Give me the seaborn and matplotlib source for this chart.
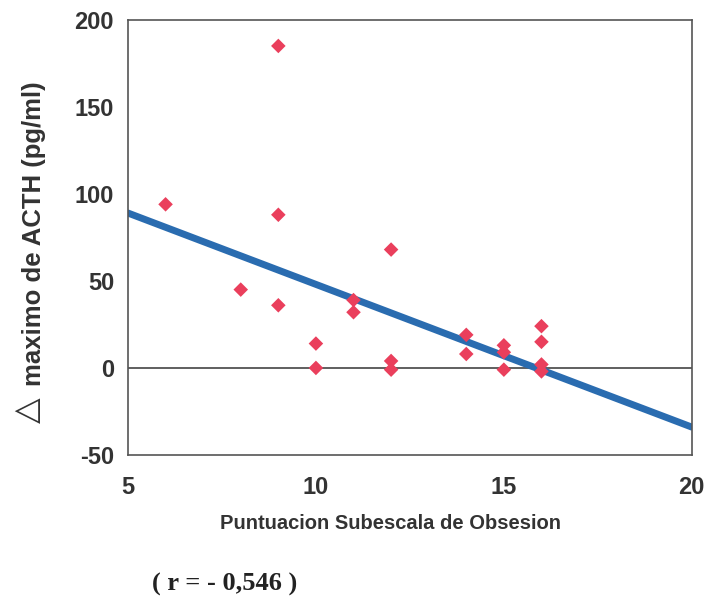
import matplotlib
matplotlib.use("Agg")
import matplotlib.pyplot as plt
import seaborn as sns
import pandas as pd

# data
puntuacion = [6, 8, 9, 9, 9, 10, 10, 11, 11, 12, 12, 12, 14, 14, 15, 15, 15, 16, 16, 16, 16]
acth_max = [94, 45, 185, 88, 36, 14, 0, 39, 32, 68, 4, -1, 19, 8, 13, 9, -1, 24, 15, 2, -2]

# regression line ends
fit_x = [5, 20]
fit_y = [89, -34]

x_ticks = [5, 10, 15, 20]
y_ticks = [-50, 0, 50, 100, 150, 200]


def main():
    sns.set_style("white")
    plt.rcParams["font.family"] = ["Liberation Sans", "DejaVu Sans"]
    plt.rcParams["axes.unicode_minus"] = False

    df = pd.DataFrame({"x": puntuacion, "y": acth_max})
    line_df = pd.DataFrame({"x": fit_x, "y": fit_y})

    fig = plt.figure(figsize=(7.11, 6.01), dpi=100)
    ax = fig.add_axes([0.18, 0.243, 0.793, 0.724])

    # zero line
    ax.axhline(0, color="#444444", lw=1.2, zorder=1)

    sns.lineplot(data=line_df, x="x", y="y", ax=ax, color="#2a6cb0", lw=5, zorder=2)
    sns.scatterplot(data=df, x="x", y="y", ax=ax, marker="D", s=55,
                    color="#ea3f5c", edgecolor="none", zorder=3)

    ax.set_xlim(5, 20)
    ax.set_ylim(-50, 200)
    ax.set_xticks(x_ticks)
    ax.set_yticks(y_ticks)
    ax.tick_params(axis="both", length=0, labelsize=17, colors="#333333")
    ax.tick_params(axis="x", pad=15)
    ax.tick_params(axis="y", pad=10)
    for lab in ax.get_xticklabels() + ax.get_yticklabels():
        lab.set_fontweight("bold")

    for sp in ax.spines.values():
        sp.set_color("#555555")
        sp.set_linewidth(1.2)

    ax.set_xlabel("Puntuacion Subescala de Obsesion", fontsize=14.5,
                  fontweight="bold", color="#333333")
    ax.xaxis.set_label_coords(0.465, -0.136)
    ax.set_ylabel("")

    # y label: big open triangle + text
    fig.text(0.048, 0.612, "maximo de ACTH (pg/ml)", rotation=90, fontsize=18.5,
             fontweight="bold", color="#333333", ha="center", va="center")
    fig.text(0.039, 0.318, "\u25b3", rotation=90, fontsize=24,
             family="DejaVu Sans", color="#333333", ha="center", va="center")

    fig.text(0.316, 0.028, "( r = - 0,546 )", fontsize=19, fontweight="bold",
             family="Liberation Serif", color="#222222", ha="center", va="center")

    fig.savefig("out.png", dpi=100)


main()
